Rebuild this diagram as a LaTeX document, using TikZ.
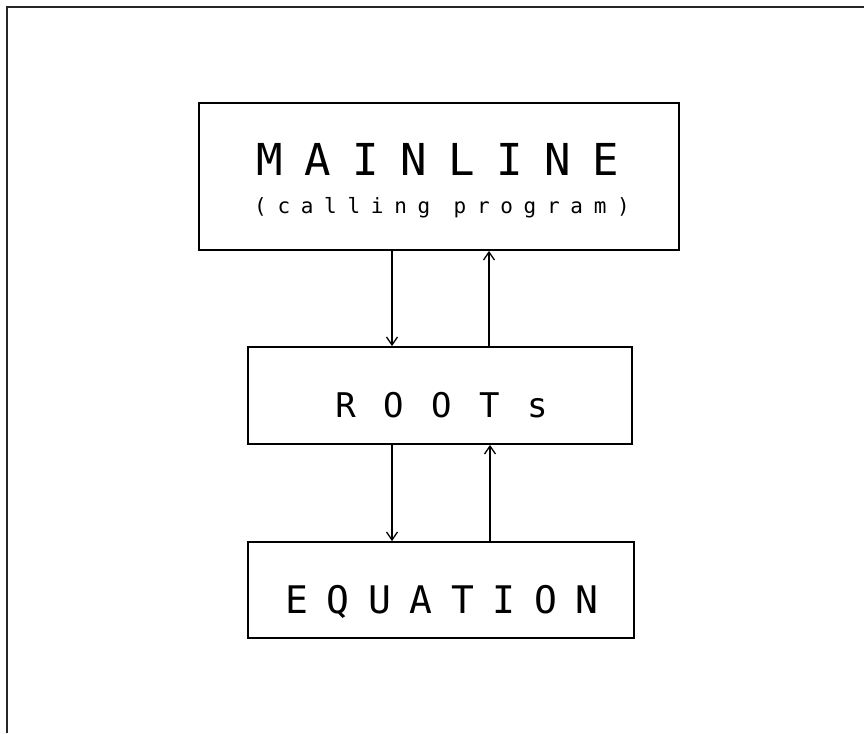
\documentclass[tikz,border=0pt]{standalone}
\usepackage{fontspec}
\usepackage{tikz}
\usetikzlibrary{arrows.meta,positioning}
\newfontfamily\plotfont{DejaVu Sans Mono}
% spaced plotter lettering: size, letter space
\newcommand\plotted[3]{{\fontsize{#1}{#1}\plotfont\addfontfeature{LetterSpace=#2}#3}}

\begin{document}
\begin{tikzpicture}[x=1pt,y=-1pt,
  box/.style={draw,line width=1.8pt,rectangle,inner sep=0pt},
  lbl/.style={inner sep=0pt,anchor=base},
  flow/.style={line width=1.3pt,-{Straight Barb[length=8pt,width=11pt]}}]
  \useasboundingbox (0,0) rectangle (864,733);
  % frame
  \draw[line width=2.4pt,black!85] (7,733) -- (7,7) -- (864,7);
  % boxes
  \node[box,minimum width=480pt,minimum height=147pt] (main) at (439,176.5) {};
  \node[box,minimum width=384pt,minimum height=97pt] (roots) at (440,395.5) {};
  \node[box,minimum width=386pt,minimum height=96pt] (eqn) at (441,590) {};
  \node[lbl] (mainlbl) at (438,175) {\plotted{44}{49}{MAINLINE}};
  \node[lbl] (calllbl) at (442,213) {\plotted{21}{51}{(calling program)}};
  \node[lbl] (rootslbl) at (441.5,417) {\plotted{34}{81}{ROOTs}};
  \node[lbl] (eqnlbl) at (442,613) {\plotted{38}{49}{EQUATION}};
  % calls and returns
  \draw[flow] ([xshift=-47pt]main.south) -- ([xshift=-47pt]main.south |- roots.north);
  \draw[flow] ([xshift=49pt]roots.north) -- ([xshift=49pt]roots.north |- main.south);
  \draw[flow] ([xshift=-48pt]roots.south) -- ([xshift=-48pt]roots.south |- eqn.north);
  \draw[flow] ([xshift=49pt]eqn.north) -- ([xshift=49pt]eqn.north |- roots.south);
\end{tikzpicture}
\end{document}
